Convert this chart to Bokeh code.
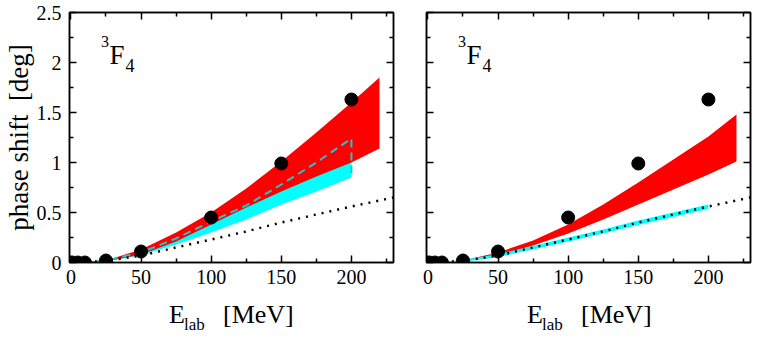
from bokeh.plotting import figure
from bokeh.models import (FixedTicker, LinearAxis, Label, NumeralTickFormatter, Range1d,
                          CustomJSTickFormatter, Div)
from bokeh.layouts import row, column
from bokeh.embed import file_html
from bokeh.resources import INLINE

# ---- data ----
pwa_e = [1, 5, 10, 25, 50, 100, 150, 200]
pwa_delta = [0.0, 0.0, 0.0, 0.02, 0.11, 0.45, 0.99, 1.63]

red_e = [0, 25, 50, 75, 100, 125, 150, 175, 200, 220]
left_red_lo = [0, 0.01, 0.08, 0.21, 0.38, 0.55, 0.71, 0.86, 1.00, 1.14]
left_red_hi = [0, 0.02, 0.13, 0.30, 0.50, 0.74, 1.01, 1.30, 1.60, 1.85]
right_red_lo = [0, 0.01, 0.07, 0.17, 0.29, 0.43, 0.58, 0.73, 0.88, 1.01]
right_red_hi = [0, 0.02, 0.10, 0.22, 0.38, 0.58, 0.80, 1.03, 1.26, 1.48]

cyan_e = [0, 25, 50, 75, 100, 125, 150, 175, 200]
left_cyan_lo = [0, 0.01, 0.07, 0.18, 0.30, 0.43, 0.58, 0.71, 0.85]
left_cyan_hi = [0, 0.02, 0.10, 0.24, 0.41, 0.57, 0.78, 1.00, 1.24]
right_cyan_lo = [0, 0.005, 0.055, 0.13, 0.21, 0.29, 0.375, 0.455, 0.535]
right_cyan_hi = [0, 0.025, 0.085, 0.165, 0.25, 0.33, 0.42, 0.50, 0.58]

dot_e = [0, 25, 50, 75, 100, 125, 150, 175, 200, 230]
dot_delta = [0, 0.015, 0.07, 0.15, 0.23, 0.31, 0.40, 0.48, 0.56, 0.65]

x_ticks = [0, 50, 100, 150, 200]
x_minor = [25, 75, 125, 175, 225]
y_ticks = [0, 0.5, 1, 1.5, 2, 2.5]
y_minor = [0.25, 0.75, 1.25, 1.75, 2.25]

SERIF = "Liberation Serif"
RED = "#ff0000"
CYAN = "#00ffff"
DASH_CYAN = "#22c4d0"


def style_axis(ax, xdir, labels):
    ax.ticker = FixedTicker(ticks=x_ticks if xdir else y_ticks,
                            minor_ticks=x_minor if xdir else y_minor)
    ax.major_tick_in = 7
    ax.major_tick_out = 0
    ax.minor_tick_in = 4
    ax.minor_tick_out = 0
    ax.axis_line_width = 1.5
    ax.major_tick_line_width = 1.5
    ax.minor_tick_line_width = 1.5
    ax.axis_line_color = "black"
    ax.major_tick_line_color = "black"
    ax.minor_tick_line_color = "black"
    ax.major_label_text_font = SERIF
    ax.major_label_text_color = "black"
    ax.major_label_text_font_size = "20px"
    if labels:
        ax.major_label_standoff = 7 if xdir else 8
        ax.formatter = NumeralTickFormatter(format="0.[0]")
    else:
        ax.major_label_standoff = 0
        ax.formatter = CustomJSTickFormatter(code="return ''")


def add_text(p, x, y, text, size):
    p.add_layout(Label(x=x, y=y, text=text, text_font=SERIF, text_font_size=size,
                       text_baseline="alphabetic", text_color="black"))


def make_fig(bl, br, ylabels, red_lo, red_hi, cyan_lo, cyan_hi, left):
    p = figure(frame_width=324, frame_height=250, x_range=Range1d(-1, 230), y_range=Range1d(0, 2.5),
               output_backend="svg", toolbar_location=None,
               min_border_left=bl, min_border_right=br, min_border_top=12, min_border_bottom=30)
    p.grid.visible = False
    p.outline_line_color = "black"
    p.outline_line_width = 1.5
    p.background_fill_color = "white"
    p.border_fill_color = "white"

    style_axis(p.xaxis[0], True, True)
    style_axis(p.yaxis[0], False, ylabels)
    if ylabels:
        p.yaxis.axis_label = "phase shift\u00a0 [deg]"
        p.yaxis.axis_label_text_font = SERIF
        p.yaxis.axis_label_text_font_size = "27px"
        p.yaxis.axis_label_text_font_style = "normal"
        p.yaxis.axis_label_text_color = "black"
        p.yaxis.axis_label_standoff = 0
    top = LinearAxis()
    style_axis(top, True, False)
    p.add_layout(top, "above")
    right = LinearAxis()
    style_axis(right, False, False)
    p.add_layout(right, "right")

    if left:
        p.varea(x=cyan_e, y1=cyan_lo, y2=cyan_hi, fill_color=CYAN)
        p.varea(x=red_e, y1=red_lo, y2=red_hi, fill_color=RED)
        p.line(x=cyan_e + [cyan_e[-1]], y=cyan_hi + [cyan_lo[-1]], line_color=DASH_CYAN,
               line_width=2, line_dash="8 5")
    else:
        p.varea(x=red_e, y1=red_lo, y2=red_hi, fill_color=RED)
        p.varea(x=cyan_e, y1=cyan_lo, y2=cyan_hi, fill_color=CYAN)
    p.line(x=dot_e, y=dot_delta, line_color="black", line_width=2.5, line_dash="2 6")
    p.scatter(x=pwa_e, y=pwa_delta, size=13, fill_color="black", line_color="black")

    # partial-wave label 3F4
    add_text(p, 21.5, 2.21, "3", "16px")
    add_text(p, 27.5, 2.08, "F", "27px")
    add_text(p, 39, 1.97, "4", "18px")
    return p


p1 = make_fig(64, 10, True, left_red_lo, left_red_hi, left_cyan_lo, left_cyan_hi, True)
p2 = make_fig(23, 2, False, right_red_lo, right_red_hi, right_cyan_lo, right_cyan_hi, False)


def xlabel_html(left):
    big = "position:absolute;top:13px;font-size:26px;line-height:20px;white-space:nowrap;"
    small = "position:absolute;top:28px;font-size:17px;line-height:10px;white-space:nowrap;"
    return (f'<span style="{big}left:{left}px">E</span>'
            f'<span style="{small}left:{left + 15}px">lab</span>'
            f'<span style="{big}left:{left + 54}px">[MeV]</span>')


html = ('<div style="position:relative;width:747px;height:28px;'
        'font-family:\'Liberation Serif\';color:black;">'
        + xlabel_html(169) + xlabel_html(527) + '</div>')
xlab = Div(text=html, width=747, height=28, margin=(0, 0, 0, 0))

layout = column(row(p1, p2), xlab)
open("out.html", "w").write(file_html(layout, INLINE))
